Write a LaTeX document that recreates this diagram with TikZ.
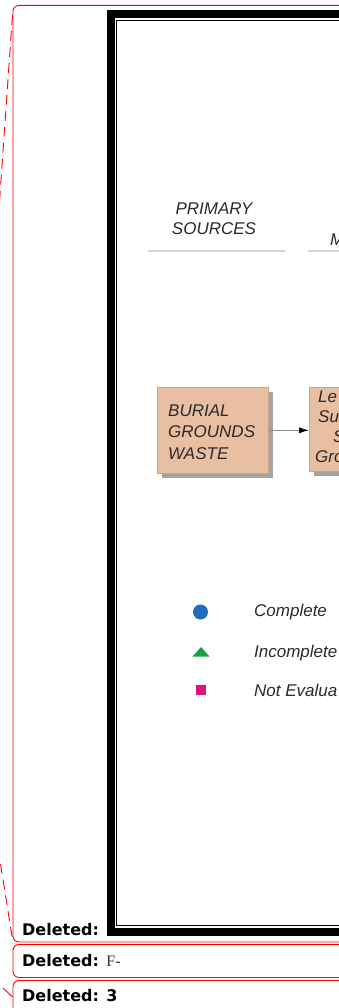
\documentclass[tikz,border=0pt]{standalone}
\usepackage{fontspec}
\newfontfamily\bgsans{Liberation Sans}
\newfontfamily\bgnotefont{DejaVu Sans}
\newfontfamily\bgserif{Liberation Serif}
\usepackage{tikz}
\usetikzlibrary{arrows.meta,shadows}
\definecolor{BGTan}{HTML}{E9BFA2}
\definecolor{BGTanEdge}{HTML}{D3A282}
\definecolor{BGInk}{HTML}{2A2A2A}
\definecolor{BGRule}{HTML}{D4D4D4}
\definecolor{BGBlue}{HTML}{1F6CC0}
\definecolor{BGGreen}{HTML}{1AA048}
\definecolor{BGMagenta}{HTML}{E0137C}
\definecolor{BGMark}{HTML}{FF0000}
\tikzset{
  bgtext/.style={font=\bgsans\itshape\fontsize{17}{21.5}\selectfont, text=BGInk,
    inner sep=0pt},
  bgbox/.style={draw=BGTanEdge, line width=0.6pt, fill=BGTan, inner sep=0pt,
    drop shadow={shadow xshift=5pt, shadow yshift=-5pt, fill=black!45, opacity=0.8}},
  bgarrow/.style={-{Latex[length=10pt,width=6pt,black]}, draw=black!45,
    line width=0.8pt},
  bgballoon/.style={draw=BGMark, line width=0.9pt, rounded corners=6pt,
    inner sep=0pt, anchor=north west, minimum width=440pt},
  bglead/.style={draw=BGMark, line width=0.9pt, dash pattern=on 10pt off 6pt},
  bgnote/.style={font=\bgnotefont\bfseries\fontsize{16}{19}\selectfont,
    inner sep=0pt, anchor=base west},
  bgframe/.style={line width=8pt},
  bgframethin/.style={line width=1.3pt},
  bgrule/.style={draw=BGRule, line width=1.4pt}
}

\begin{document}
\begin{tikzpicture}[x=1pt, y=-1pt]
  \useasboundingbox (0,0) rectangle (339,1008);
  \clip (0,0) rectangle (339,1008);

  % comment balloons
  \node[bgballoon, minimum height=936.5pt] (balloonA) at (12.5,5) {};
  \node[bgballoon, minimum height=33pt] (balloonB) at (12.5,944) {};
  \node[bgballoon, minimum height=100pt] (balloonC) at (12.5,980) {};
  \node[bgnote] (delA) at (22,935.5) {Deleted:};
  \node[bgnote] (delB) at (22,966) {Deleted: {\bgserif\mdseries\color{black!80}F-}};
  \node[bgnote] (delC) at (22,1001.5) {Deleted: 3};

  \coordinate (leadtop) at (-2,223);
  \coordinate (leadbot) at (-2,848);
  \coordinate (leadthree) at (3,988);
  \draw[bglead] ([yshift=-10pt]balloonA.north west) -- (leadtop);
  \draw[bglead] (leadbot) -- ([yshift=3pt]balloonA.south west);
  \draw[draw=BGMark, line width=0.9pt] (leadthree) -- ([yshift=-17pt]balloonC.north west);

  % figure frame
  \draw[bgframe] (500,14.5) -- (111,14.5) -- (111,932) -- (500,932);
  \draw[bgframethin] (500,20.3) -- (116.8,20.3) -- (116.8,925.3) -- (500,925.3);

  % column heads
  \node[bgtext, align=center, anchor=north, font=\bgsans\itshape\fontsize{17}{20}\selectfont]
    (primary) at (214,203) {PRIMARY\\SOURCES};
  \node[bgtext, anchor=base west] (mhead) at (330,245) {M};
  \draw[bgrule] (148,251) -- (285,251);
  \draw[bgrule] (308,251) -- (345,251);

  % source boxes
  \node[bgbox, anchor=north west, minimum width=111pt, minimum height=86pt] (burial)
    at (157,387) {};
  \node[bgtext, align=left, anchor=north west] (burialtext) at (168,404.5)
    {BURIAL\\GROUNDS\\WASTE};
  \node[bgbox, anchor=north west, minimum width=120pt, minimum height=84pt] (leach)
    at (309,387) {};
  \node[bgtext, align=left, anchor=north west, font=\bgsans\itshape\fontsize{17}{20}\selectfont]
    (leachtext) at (315,391) {\hspace*{3pt}Le\\\hspace*{3pt}Su\\\hspace*{18pt}S\\Gro};
  \draw[bgarrow] (burial.east) -- (burial.east -| leach.west);

  % legend
  \node[circle, fill=BGBlue, minimum size=15pt, inner sep=0pt] (mkcomplete) at (200.5,612) {};
  \fill[BGGreen] (192.5,656.5) -- (209.5,656.5) -- (201,647) -- cycle;
  \node[rectangle, fill=BGMagenta, minimum size=10pt, inner sep=0pt] (mknone) at (200.5,690) {};
  \node[bgtext, anchor=base west] (lcomplete) at (254,616) {Complete};
  \node[bgtext, anchor=base west] (lincomplete) at (254,657) {Incomplete};
  \node[bgtext, anchor=base west] (lnone) at (254,696) {Not Evalua};
\end{tikzpicture}
\end{document}
